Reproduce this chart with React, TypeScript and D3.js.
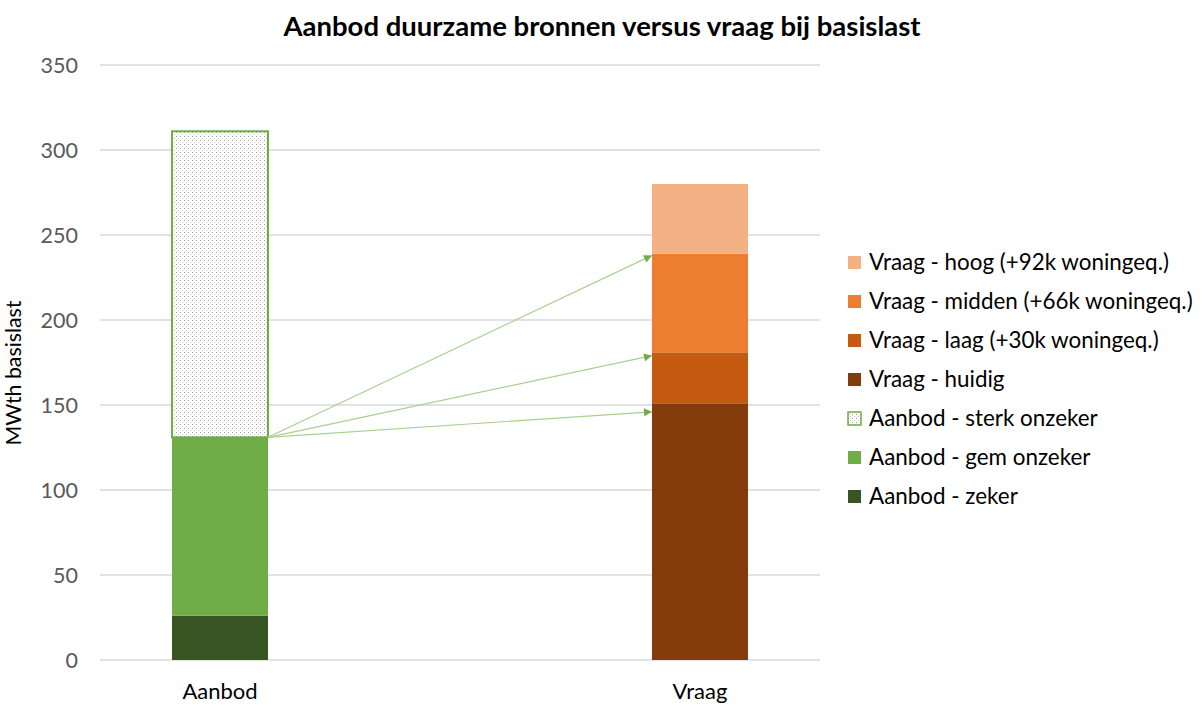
import { useEffect, useRef } from 'react'
import * as d3 from 'd3'

// categories on the x axis (middle one is an empty spacer, as in the original sheet)
const categories = ['Aanbod', 'leeg', 'Vraag']
const categoryLabels = ['Aanbod', '', 'Vraag']

// series, bottom to top within each stack
const seriesKeys = [
  'Aanbod - zeker',
  'Aanbod - gem onzeker',
  'Aanbod - sterk onzeker',
  'Vraag - huidig',
  'Vraag - laag (+30k woningeq.)',
  'Vraag - midden (+66k woningeq.)',
  'Vraag - hoog (+92k woningeq.)',
]
const seriesColors = ['#375623', '#70AD47', 'url(#dots)', '#843C0C', '#C55A11', '#ED7D31', '#F4B183']

// values per category, same order as seriesKeys
const aanbodValues = [26, 105, 180, 0, 0, 0, 0]
const leegValues = [0, 0, 0, 0, 0, 0, 0]
const vraagValues = [0, 0, 0, 151, 30, 58, 41]

// arrows from top of "gem onzeker" to the demand levels
const arrowFrom = 131
const arrowTargets = [238, 179, 146]

const yTicks = [0, 50, 100, 150, 200, 250, 300, 350]

const FONT = 'Lato, "Liberation Sans", sans-serif'

export default function App() {
  const svgRef = useRef<SVGSVGElement>(null)
  const width = 1204
  const height = 705

  useEffect(() => {
    if (!svgRef.current) return
    const svg = d3.select(svgRef.current)
    svg.selectAll('*').remove()

    const margin = { top: 65, right: 384, bottom: 45, left: 100 }
    const x0 = margin.left
    const x1 = width - margin.right
    const yBottom = height - margin.bottom

    const rows = [aanbodValues, leegValues, vraagValues].map((vals, i) => {
      const r: any = { cat: categories[i] }
      seriesKeys.forEach((k, j) => (r[k] = vals[j]))
      return r
    })
    const stacked = d3.stack<any>().keys(seriesKeys)(rows)

    const x = d3.scaleBand().domain(categories).range([x0, x1]).paddingInner(0.6).paddingOuter(0.3)
    const y = d3.scaleLinear().domain([0, 350]).range([yBottom, margin.top])

    const defs = svg.append('defs')
    const pat = defs.append('pattern')
      .attr('id', 'dots')
      .attr('patternUnits', 'userSpaceOnUse')
      .attr('width', 4)
      .attr('height', 4)
    pat.append('rect').attr('width', 4).attr('height', 4).attr('fill', '#ffffff')
    pat.append('rect').attr('x', 0).attr('y', 0).attr('width', 1).attr('height', 1).attr('fill', '#9a9a9a')
    pat.append('rect').attr('x', 2).attr('y', 2).attr('width', 1).attr('height', 1).attr('fill', '#c8c8c8')

    defs.append('marker')
      .attr('id', 'arrowhead')
      .attr('viewBox', '0 0 10 10')
      .attr('refX', 10)
      .attr('refY', 5)
      .attr('markerWidth', 10)
      .attr('markerHeight', 8)
      .attr('markerUnits', 'userSpaceOnUse')
      .attr('orient', 'auto')
      .append('path')
      .attr('d', 'M0,0L10,5L0,10Z')
      .attr('fill', '#70AD47')

    // title
    svg.append('text')
      .attr('x', 602)
      .attr('y', 36)
      .attr('text-anchor', 'middle')
      .attr('font-family', FONT)
      .attr('font-weight', 'bold')
      .attr('font-size', 27.5)
      .attr('fill', '#000')
      .text('Aanbod duurzame bronnen versus vraag bij basislast')

    // gridlines
    svg.append('g')
      .selectAll('line')
      .data(yTicks)
      .enter().append('line')
      .attr('x1', x0)
      .attr('x2', x1)
      .attr('y1', d => y(d))
      .attr('y2', d => y(d))
      .attr('stroke', '#d9d9d9')
      .attr('stroke-width', 1.3)

    // y tick labels
    svg.append('g')
      .selectAll('text')
      .data(yTicks)
      .enter().append('text')
      .attr('x', 78)
      .attr('y', d => y(d) + 7.5)
      .attr('text-anchor', 'end')
      .attr('font-family', FONT)
      .attr('font-size', 21.5)
      .attr('fill', '#595959')
      .text(d => d)

    // y axis title
    svg.append('text')
      .attr('transform', `translate(21,373) rotate(-90)`)
      .attr('text-anchor', 'middle')
      .attr('font-family', FONT)
      .attr('font-size', 21.3)
      .attr('fill', '#000')
      .text('MWth basislast')

    // bars
    const g = svg.append('g')
    stacked.forEach((layer, i) => {
      g.selectAll(null)
        .data(layer.filter(d => d[1] - d[0] > 0))
        .enter().append('rect')
        .attr('x', d => x(d.data.cat) as number)
        .attr('y', d => y(d[1]))
        .attr('width', x.bandwidth())
        .attr('height', d => y(d[0]) - y(d[1]))
        .attr('fill', seriesColors[i])
        .attr('stroke', seriesColors[i] === 'url(#dots)' ? '#70AD47' : 'none')
        .attr('stroke-width', 2)
    })

    // category labels
    svg.append('g')
      .selectAll('text')
      .data(categories)
      .enter().append('text')
      .attr('x', d => (x(d) as number) + x.bandwidth() / 2)
      .attr('y', yBottom + 39)
      .attr('text-anchor', 'middle')
      .attr('font-family', FONT)
      .attr('font-size', 22)
      .attr('fill', '#000')
      .text((d, i) => categoryLabels[i])

    // arrows
    const sx = (x('Aanbod') as number) + x.bandwidth()
    const tx = x('Vraag') as number
    svg.append('g')
      .selectAll('line')
      .data(arrowTargets)
      .enter().append('line')
      .attr('x1', sx)
      .attr('y1', y(arrowFrom))
      .attr('x2', tx)
      .attr('y2', d => y(d))
      .attr('stroke', '#A9D18E')
      .attr('stroke-width', 1.2)
      .attr('marker-end', 'url(#arrowhead)')

    // legend (top to bottom reversed series)
    const legendOrder = [...seriesKeys.keys()].reverse()
    const lg = svg.append('g').attr('transform', 'translate(848,262)')
    legendOrder.forEach((si, i) => {
      const row = lg.append('g').attr('transform', `translate(0,${i * 39})`)
      row.append('rect')
        .attr('x', 0)
        .attr('y', -6)
        .attr('width', 13)
        .attr('height', 13)
        .attr('fill', seriesColors[si])
        .attr('stroke', seriesColors[si] === 'url(#dots)' ? '#70AD47' : 'none')
        .attr('stroke-width', 1.5)
      row.append('text')
        .attr('x', 21)
        .attr('y', 8)
        .attr('font-family', FONT)
        .attr('font-size', 22.4)
        .attr('fill', '#000')
        .text(seriesKeys[si])
    })
  }, [])

  return (
    <svg ref={svgRef} width={width} height={height} style={{ display: 'block', position: 'absolute', left: 0, top: 0 }} />
  )
}
